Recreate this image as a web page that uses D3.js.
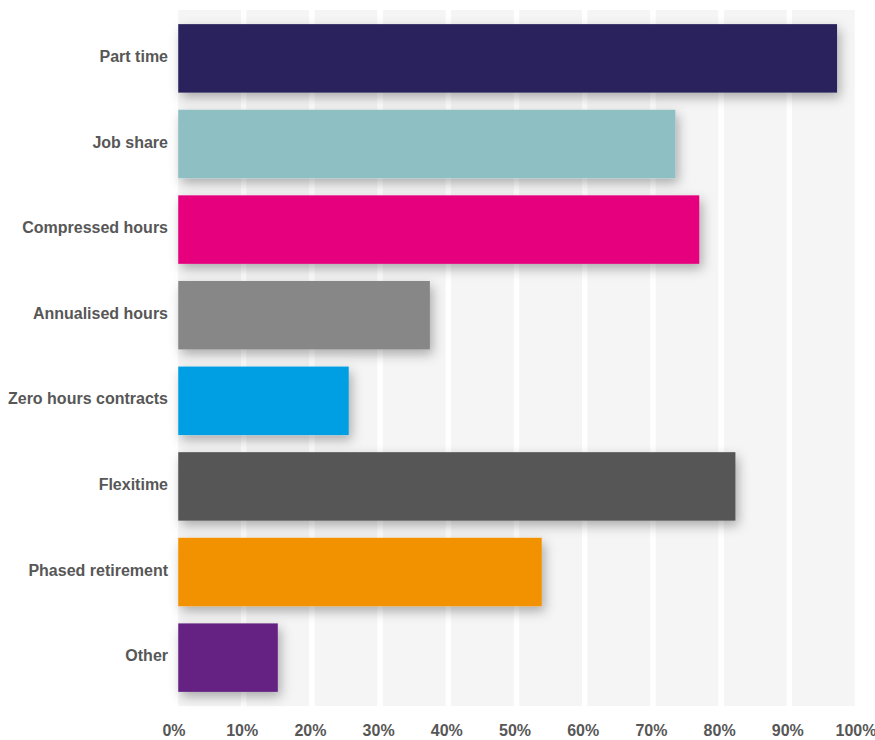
<!DOCTYPE html>
<html>
<head>
<meta charset="utf-8">
<script src="https://cdn.jsdelivr.net/npm/d3@7"></script>
<style>
  html, body { margin: 0; padding: 0; background: #ffffff; }
  svg { display: block; }
  text { font-family: "Liberation Sans", Arial, Helvetica, sans-serif; font-weight: bold; fill: #575757; }
</style>
</head>
<body>
<svg id="chart" width="875" height="740"></svg>
<script>
// Flexible working arrangements offered (% of respondents)
const categories = [
  "Part time",
  "Job share",
  "Compressed hours",
  "Annualised hours",
  "Zero hours contracts",
  "Flexitime",
  "Phased retirement",
  "Other"
];
const values = [97, 73.3, 76.8, 37.3, 25.4, 82.1, 53.7, 15];
const barColors = [
  "#29235c", "#8dbfc3", "#e6007e", "#878787",
  "#009fe3", "#575756", "#f39200", "#662483"
];
const tickValues = [0, 10, 20, 30, 40, 50, 60, 70, 80, 90, 100];
const tickLabels = tickValues.map(v => v + "%");

const svg = d3.select("#chart");
const plotTop = 10, plotBottom = 706;

const x = d3.scaleLinear().domain([0, 100]).range([175.5, 857.5]);
const y = d3.scaleBand()
  .domain(categories)
  .range([plotTop, plotBottom])
  .paddingInner(0.2)
  .paddingOuter(0.165);

// soft drop shadow under each bar
const defs = svg.append("defs");
const f = defs.append("filter").attr("id", "barShadow")
  .attr("x", "-10%").attr("y", "-40%").attr("width", "140%").attr("height", "190%");
f.append("feDropShadow")
  .attr("dx", 3).attr("dy", 5).attr("stdDeviation", 6)
  .attr("flood-color", "#000").attr("flood-opacity", 0.3);

// background columns separated by white gridline gaps
const gap = 5.5;
const bands = d3.range(0, 100, 10);
svg.append("g").selectAll("rect")
  .data(bands)
  .join("rect")
  .attr("x", d => x(d) + gap / 2)
  .attr("y", plotTop)
  .attr("width", d => x(d + 10) - x(d) - gap)
  .attr("height", plotBottom - plotTop)
  .attr("fill", "#f5f5f5");

// bars
svg.append("g").selectAll("rect")
  .data(categories)
  .join("rect")
  .attr("x", x(0) + gap / 2)
  .attr("y", d => y(d))
  .attr("width", (d, i) => x(values[i]) - x(0) - gap / 2)
  .attr("height", y.bandwidth())
  .attr("fill", (d, i) => barColors[i])
  .attr("filter", "url(#barShadow)");

// category axis
const yAxis = d3.axisLeft(y).tickSize(0).tickPadding(0);
const gy = svg.append("g").attr("transform", "translate(168,0)").call(yAxis);
gy.select(".domain").remove();
gy.selectAll("text")
  .attr("font-size", 16)
  .attr("dy", "0.22em")
  .attr("fill", "#575757")
  .style("font-family", "\"Liberation Sans\", Arial, sans-serif")
  .style("font-weight", "bold");

// value axis
const xAxis = d3.axisBottom(x).tickValues(tickValues)
  .tickFormat((d, i) => tickLabels[i]).tickSize(0).tickPadding(0);
const gx = svg.append("g").attr("transform", "translate(0,736)").call(xAxis);
gx.select(".domain").remove();
gx.selectAll("text")
  .attr("font-size", 16)
  .attr("dy", 0)
  .attr("dx", -2)
  .attr("fill", "#575757")
  .style("font-family", "\"Liberation Sans\", Arial, sans-serif")
  .style("font-weight", "bold");
</script>
</body>
</html>
